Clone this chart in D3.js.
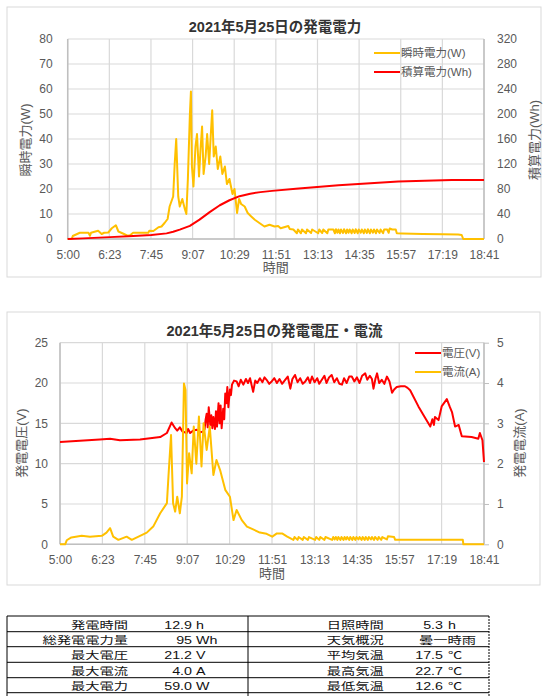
<!DOCTYPE html>
<html>
<head>
<meta charset="utf-8">
<script src="https://cdn.jsdelivr.net/npm/d3@7"></script>
<style>
  body { margin: 0; background: #fff; }
  text { font-family: "Liberation Sans", "Noto Sans CJK JP", sans-serif; }
</style>
</head>
<body>
<div id="chart"></div>
<script>
// 時刻ラベル (x軸)
var timeLabels = ['5:00', '6:23', '7:45', '9:07', '10:29', '11:51', '13:13', '14:35', '15:57', '17:19', '18:41'];

// 瞬時電力 (W)
var powerW = [
  ['5:00', 0], ['5:08', 0], ['5:10', 1.2], ['5:24', 2.5], ['5:41', 2.5], ['5:44', 1.3], ['5:46', 2.5],
  ['6:00', 3.3], ['6:07', 2.0], ['6:12', 2.5], ['6:20', 2.6], ['6:27', 4.3], ['6:35', 5.5], ['6:40', 3.0],
  ['6:50', 2.1], ['6:58', 1.3], ['7:03', 1.5], ['7:09', 2.5], ['7:39', 2.5], ['7:41', 3.3], ['7:49', 3.2],
  ['7:59', 4.7], ['8:05', 5.0], ['8:11', 6.4], ['8:17', 8], ['8:21', 13], ['8:28', 17], ['8:31', 30],
  ['8:34', 40], ['8:38', 17], ['8:41', 13], ['8:46', 16], ['8:51', 12], ['8:54', 10], ['8:57', 24],
  ['9:01', 50], ['9:03', 59], ['9:05', 29], ['9:08', 21], ['9:12', 37], ['9:15', 42], ['9:19', 25],
  ['9:22', 36], ['9:25', 45], ['9:28', 26], ['9:32', 33], ['9:35', 42], ['9:39', 30], ['9:42', 41],
  ['9:45', 51.5], ['9:48', 33], ['9:52', 37], ['9:56', 28], ['10:01', 33], ['10:05', 26], ['10:10', 29],
  ['10:14', 22], ['10:19', 24], ['10:25', 18], ['10:29', 20], ['10:34', 10.4], ['10:38', 16], ['10:42', 14],
  ['10:49', 13], ['10:55', 10.4], ['11:02', 9], ['11:09', 7.7], ['11:18', 6.4], ['11:28', 5], ['11:38', 5.7],
  ['11:48', 5], ['11:55', 5.2], ['12:00', 4.3], ['12:15', 5.2], ['12:18', 4], ['12:25', 3.8], ['12:32', 2.3],
  ['12:34', 3.8], ['12:40', 2.3], ['12:42', 3.8], ['12:50', 2.3], ['12:52', 3.8], ['13:00', 2.4], ['13:02', 3.8],
  ['13:14', 2.3], ['13:16', 3.8], ['13:22', 2.4], ['13:24', 3.8], ['13:32', 2.3], ['13:34', 3.8], ['13:44', 3.8],
  ['13:47', 2.3], ['13:49', 3.9], ['13:52', 2.5], ['13:54', 3.8], ['13:57', 2.3], ['13:59', 3.8], ['14:03', 2.4],
  ['14:05', 3.9], ['14:09', 2.3], ['14:11', 3.8], ['14:14', 2.5], ['14:16', 3.8], ['14:20', 2.3], ['14:22', 3.8],
  ['14:26', 2.4], ['14:28', 3.9], ['14:32', 2.3], ['14:34', 3.8], ['14:38', 2.5], ['14:40', 3.8], ['14:44', 2.3],
  ['14:46', 3.8], ['14:50', 2.4], ['14:52', 3.9], ['14:56', 2.3], ['14:58', 3.8], ['15:02', 2.5], ['15:04', 3.8],
  ['15:08', 2.3], ['15:10', 3.8], ['15:15', 2.4], ['15:17', 3.8], ['15:22', 2.3], ['15:24', 3.8], ['15:30', 3.8],
  ['15:33', 2.5], ['15:35', 4.2], ['15:40', 3.8], ['15:47', 3.8], ['15:49', 2.3], ['16:00', 2.2], ['16:40', 2.0],
  ['17:20', 1.9], ['17:50', 1.8], ['17:57', 1.6], ['18:00', 0], ['18:41', 0]
];

// 積算電力 (Wh)
var energyWh = [
  ['5:00', 0], ['5:30', 1], ['6:23', 3], ['7:00', 4.5], ['7:45', 6.5], ['8:15', 9], ['8:28', 11.5],
  ['8:41', 15], ['9:01', 21], ['9:20', 31], ['9:40', 43], ['10:00', 54], ['10:19', 62], ['10:39', 68.5],
  ['11:00', 72.5], ['11:20', 75], ['11:43', 77], ['12:30', 80.5], ['13:54', 86], ['15:52', 92],
  ['17:37', 94.4], ['18:41', 94.6]
];

// 電圧 (V)
var voltageV = [
  ['5:00', 12.7], ['6:17', 13.0], ['6:37', 13.1], ['6:56', 12.9], ['7:35', 13.0], ['8:14', 13.3], ['8:27', 13.8],
  ['8:36', 15.1], ['8:43', 14.4], ['8:47', 14.1], ['8:52', 14.5], ['8:57', 14.0], ['9:05', 13.8], ['9:08', 14.3],
  ['9:12', 13.8], ['9:18', 14.1], ['9:25', 14.2], ['9:32', 13.9], ['9:38', 14.0], ['9:40', 14.3], ['9:42', 15.5],
  ['9:44', 16.2], ['9:46', 14.5], ['9:48', 17.0], ['9:51', 14.8], ['9:53', 16.0], ['9:55', 14.4], ['9:57', 15.8],
  ['10:00', 14.3], ['10:02', 16.5], ['10:04', 14.6], ['10:07', 17.5], ['10:09', 15.0], ['10:11', 17.2], ['10:13', 14.4],
  ['10:16', 16.8], ['10:18', 15.5], ['10:20', 18.7], ['10:22', 17.5], ['10:24', 19.5], ['10:26', 17.0], ['10:29', 19.2],
  ['10:31', 18.5], ['10:33', 19.8], ['10:37', 20.3], ['10:42', 20.2], ['10:46', 19.6], ['10:50', 20.4], ['10:55', 19.8],
  ['11:00', 20.5], ['11:04', 20.0], ['11:08', 20.6], ['11:14', 18.9], ['11:18', 20.3], ['11:22', 20.0], ['11:27', 20.6],
  ['11:32', 20.1], ['11:36', 20.7], ['11:40', 20.4], ['11:45', 19.9], ['11:50', 20.2], ['11:55', 20.6], ['12:00', 20.0],
  ['12:05', 20.5], ['12:10', 19.9], ['12:16', 20.4], ['12:21', 20.8], ['12:26', 19.3], ['12:30', 20.5], ['12:35', 21.0],
  ['12:40', 20.1], ['12:45', 20.6], ['12:50', 19.9], ['12:55', 20.2], ['13:00', 20.7], ['13:04', 20.0], ['13:08', 20.8],
  ['13:13', 20.1], ['13:18', 20.6], ['13:22', 19.9], ['13:27', 20.4], ['13:32', 20.9], ['13:36', 20.0], ['13:41', 20.7],
  ['13:46', 21.0], ['13:51', 20.1], ['13:56', 20.6], ['14:01', 19.9], ['14:06', 19.8], ['14:10', 20.6], ['14:15', 20.0],
  ['14:20', 20.8], ['14:25', 20.8], ['14:30', 20.2], ['14:35', 20.7], ['14:40', 20.0], ['14:45', 20.9], ['14:51', 21.2],
  ['14:55', 20.4], ['15:00', 20.9], ['15:04', 20.5], ['15:07', 19.3], ['15:11', 20.6], ['15:14', 21.2], ['15:18', 20.0],
  ['15:23', 20.4], ['15:28', 19.9], ['15:33', 20.8], ['15:38', 20.2], ['15:43', 18.8], ['15:47', 19.2], ['15:52', 19.5],
  ['16:00', 19.6], ['16:08', 19.6], ['16:13', 19.4], ['16:18', 19.1], ['16:34', 17.1], ['16:44', 16.0], ['16:57', 14.6],
  ['17:01', 15.5], ['17:04', 14.8], ['17:06', 15.8], ['17:13', 15.4], ['17:19', 17.1], ['17:29', 18.0], ['17:35', 17.0],
  ['17:39', 16.4], ['17:45', 14.6], ['17:52', 14.8], ['17:58', 13.4], ['18:17', 13.3], ['18:30', 13.1], ['18:33', 13.8],
  ['18:38', 12.9], ['18:41', 10.2]
];

// 電流 (A)
var currentA = [
  ['5:00', 0], ['5:10', 0], ['5:13', 0.1], ['5:22', 0.17], ['5:42', 0.21], ['5:58', 0.19], ['6:21', 0.21],
  ['6:30', 0.29], ['6:37', 0.4], ['6:43', 0.19], ['6:53', 0.11], ['7:09', 0.19], ['7:19', 0.11], ['7:35', 0.21],
  ['7:48', 0.29], ['8:01', 0.45], ['8:14', 0.77], ['8:27', 1.02], ['8:30', 1.68], ['8:35', 2.71], ['8:39', 1.02],
  ['8:43', 0.81], ['8:47', 1.18], ['8:52', 0.77], ['8:56', 1.18], ['9:00', 3.99], ['9:03', 3.83], ['9:06', 1.51],
  ['9:10', 2.26], ['9:15', 1.76], ['9:19', 2.92], ['9:24', 2.0], ['9:29', 3.17], ['9:34', 1.93], ['9:38', 3.0],
  ['9:44', 2.34], ['9:50', 2.92], ['9:57', 1.72], ['10:03', 2.09], ['10:10', 1.84], ['10:20', 1.35], ['10:29', 1.18],
  ['10:36', 0.6], ['10:42', 0.85], ['10:52', 0.6], ['11:02', 0.44], ['11:14', 0.37], ['11:27', 0.29], ['11:40', 0.26],
  ['11:51', 0.19], ['12:00', 0.27], ['12:10', 0.27], ['12:20', 0.19], ['12:32', 0.11], ['12:34', 0.18], ['12:40', 0.11],
  ['12:42', 0.18], ['12:50', 0.11], ['12:52', 0.18], ['13:00', 0.11], ['13:02', 0.18], ['13:14', 0.11], ['13:16', 0.18],
  ['13:22', 0.11], ['13:24', 0.18], ['13:32', 0.11], ['13:34', 0.18], ['13:47', 0.11], ['13:49', 0.18], ['13:52', 0.12],
  ['13:54', 0.18], ['13:57', 0.11], ['13:59', 0.18], ['14:03', 0.11], ['14:05', 0.18], ['14:09', 0.11], ['14:11', 0.18],
  ['14:14', 0.12], ['14:16', 0.18], ['14:20', 0.11], ['14:22', 0.18], ['14:26', 0.11], ['14:28', 0.18], ['14:32', 0.11],
  ['14:34', 0.18], ['14:38', 0.12], ['14:40', 0.18], ['14:44', 0.11], ['14:46', 0.18], ['14:50', 0.11], ['14:52', 0.18],
  ['14:56', 0.11], ['14:58', 0.18], ['15:02', 0.12], ['15:04', 0.18], ['15:08', 0.11], ['15:10', 0.18], ['15:15', 0.11],
  ['15:17', 0.18], ['15:22', 0.11], ['15:24', 0.18], ['15:33', 0.12], ['15:35', 0.2], ['15:47', 0.18], ['15:49', 0.11],
  ['18:00', 0.11], ['18:01', 0], ['18:41', 0]
];

// 集計表
var summaryLeft = [
  ['発電時間', '12.9', 'h'], ['総発電電力量', '95', 'Wh'], ['最大電圧', '21.2', 'V'],
  ['最大電流', '4.0', 'A'], ['最大電力', '59.0', 'W']
];
var summaryRight = [
  ['日照時間', '5.3', 'h'], ['天気概況', '曇一時雨', ''], ['平均気温', '17.5', '℃'],
  ['最高気温', '22.7', '℃'], ['最低気温', '12.6', '℃']
];

var W = 544, H = 696;
var gray = '#595959', gridColor = '#d9d9d9', axisColor = '#bfbfbf';
var yellow = '#ffc000', red = '#ff0000';

function toMin(s) {
  var p = s.split(':');
  return +p[0] * 60 + +p[1];
}

var svg = d3.select('#chart').append('svg')
  .attr('width', W)
  .attr('height', H);

function drawChart(o) {
  var g = svg.append('g');

  g.append('rect')
    .attr('x', o.box[0]).attr('y', o.box[1])
    .attr('width', o.box[2]).attr('height', o.box[3])
    .attr('fill', '#fff').attr('stroke', gridColor);

  var x = d3.scaleLinear().domain([toMin('5:00'), toMin('18:41')]).range([o.left, o.right]);
  var xt = d3.scalePoint().domain(timeLabels).range([o.left, o.right]);
  var yL = d3.scaleLinear().domain([0, d3.max(o.leftTicks)]).range([o.bottom, o.top]);
  var yR = d3.scaleLinear().domain([0, d3.max(o.rightTicks)]).range([o.bottom, o.top]);

  // grid
  g.append('g').selectAll('line').data(o.leftTicks).enter().append('line')
    .attr('x1', o.left).attr('x2', o.right)
    .attr('y1', function(d) { return yL(d); }).attr('y2', function(d) { return yL(d); })
    .attr('stroke', gridColor).attr('stroke-width', 1.2);
  g.append('g').selectAll('line').data(timeLabels).enter().append('line')
    .attr('x1', function(d) { return xt(d); }).attr('x2', function(d) { return xt(d); })
    .attr('y1', o.top).attr('y2', o.bottom)
    .attr('stroke', gridColor).attr('stroke-width', 1.2);

  // axis lines
  g.append('line').attr('x1', o.left).attr('x2', o.left).attr('y1', o.top).attr('y2', o.bottom)
    .attr('stroke', axisColor).attr('stroke-width', 1.5);
  g.append('line').attr('x1', o.right).attr('x2', o.right).attr('y1', o.top).attr('y2', o.bottom)
    .attr('stroke', axisColor).attr('stroke-width', 1.5);
  g.append('line').attr('x1', o.left).attr('x2', o.right).attr('y1', o.bottom).attr('y2', o.bottom)
    .attr('stroke', axisColor).attr('stroke-width', 1.5);

  // left axis
  var ax = g.append('g').attr('transform', 'translate(' + o.left + ',0)')
    .call(d3.axisLeft(yL).tickValues(o.leftTicks).tickFormat(d3.format('d')).tickSize(0).tickPadding(o.leftPad));
  ax.select('.domain').remove();
  ax.selectAll('text').attr('fill', gray).style('font-size', '12px')
    .style('font-family', '"Liberation Sans", "Noto Sans CJK JP", sans-serif');

  // right axis
  var axR = g.append('g').attr('transform', 'translate(' + o.right + ',0)')
    .call(d3.axisRight(yR).tickValues(o.rightTicks).tickFormat(d3.format('d'))
      .tickSize(o.rightTickSize).tickPadding(13 - o.rightTickSize));
  axR.select('.domain').remove();
  axR.selectAll('line').attr('stroke', axisColor);
  axR.selectAll('text').attr('fill', gray).style('font-size', '12px')
    .style('font-family', '"Liberation Sans", "Noto Sans CJK JP", sans-serif');

  // bottom axis
  var axB = g.append('g').attr('transform', 'translate(0,' + o.bottom + ')')
    .call(d3.axisBottom(xt).tickSize(0).tickPadding(11));
  axB.select('.domain').remove();
  axB.selectAll('text').attr('fill', gray).style('font-size', '12px')
    .style('font-family', '"Liberation Sans", "Noto Sans CJK JP", sans-serif');

  // titles
  g.append('text').attr('x', (o.box[0] * 2 + o.box[2]) / 2 + 1).attr('y', o.titleY)
    .attr('text-anchor', 'middle').attr('fill', '#333')
    .style('font-size', '14.5px').style('font-weight', 'bold').text(o.title);
  g.append('text').attr('x', (o.left + o.right) / 2).attr('y', o.xTitleY)
    .attr('text-anchor', 'middle').attr('fill', gray).style('font-size', '13px').text('時間');
  g.append('text').attr('transform', 'translate(' + o.yTitleL[0] + ',' + o.yTitleL[1] + ') rotate(-90)')
    .attr('text-anchor', 'middle').attr('dy', '0.35em').attr('fill', gray).style('font-size', '13px').text(o.leftTitle);
  g.append('text').attr('transform', 'translate(' + o.yTitleR[0] + ',' + o.yTitleR[1] + ') rotate(-90)')
    .attr('text-anchor', 'middle').attr('dy', '0.35em').attr('fill', gray).style('font-size', '13px').text(o.rightTitle);

  // series
  var plot = g.append('g');
  o.series.forEach(function(s) {
    var y = s.axis === 'left' ? yL : yR;
    var line = d3.line()
      .x(function(d) { return x(toMin(d[0])); })
      .y(function(d) { return y(d[1]); });
    plot.append('path')
      .datum(s.data)
      .attr('d', line)
      .attr('fill', 'none')
      .attr('stroke', s.color)
      .attr('stroke-width', 2)
      .attr('stroke-linejoin', 'round');
  });

  // legend
  var leg = g.append('g');
  o.series.forEach(function(s, i) {
    var ly = o.legend[1] + i * 19;
    leg.append('line').attr('x1', o.legend[0]).attr('x2', o.legend[0] + 26)
      .attr('y1', ly).attr('y2', ly).attr('stroke', s.color).attr('stroke-width', 2);
    leg.append('text').attr('x', o.legend[0] + 27).attr('y', ly).attr('dy', '0.35em')
      .attr('fill', gray).style('font-size', '11.5px').text(s.name);
  });
}

drawChart({
  box: [7, 7, 534, 270],
  left: 67.7, right: 484, top: 39, bottom: 239,
  leftTicks: d3.range(0, 81, 10),
  rightTicks: d3.range(0, 321, 40),
  leftPad: 15, rightTickSize: 0,
  title: '2021年5月25日の発電電力',
  titleY: 32,
  xTitleY: 272,
  leftTitle: '瞬時電力(W)', rightTitle: '積算電力(Wh)',
  yTitleL: [25, 140], yTitleR: [534, 140],
  legend: [374, 53],
  series: [
    { name: '瞬時電力(W)', data: powerW, axis: 'left', color: yellow },
    { name: '積算電力(Wh)', data: energyWh, axis: 'right', color: red }
  ]
});

drawChart({
  box: [7, 312, 533, 273],
  left: 60, right: 484, top: 342.7, bottom: 544.3,
  leftTicks: d3.range(0, 26, 5),
  rightTicks: d3.range(0, 6, 1),
  leftPad: 12, rightTickSize: 5,
  title: '2021年5月25日の発電電圧・電流',
  titleY: 336,
  xTitleY: 578,
  leftTitle: '発電電圧(V)', rightTitle: '発電電流(A)',
  yTitleL: [21, 443], yTitleR: [519, 443],
  legend: [415, 353],
  series: [
    { name: '電圧(V)', data: voltageV, axis: 'left', color: red },
    { name: '電流(A)', data: currentA, axis: 'right', color: yellow }
  ]
});

// 集計表 (文字は横長)
var rowY = [616, 631.7, 646.7, 662.3, 677.7, 692.7];
var tbl = svg.append('g');
rowY.forEach(function(y) {
  tbl.append('line').attr('x1', 7).attr('x2', 489).attr('y1', y).attr('y2', y)
    .attr('stroke', '#000').attr('stroke-width', 1);
});
[7, 248].forEach(function(x) {
  tbl.append('line').attr('x1', x).attr('x2', x).attr('y1', 616).attr('y2', 696)
    .attr('stroke', '#000').attr('stroke-width', 1);
});
tbl.append('line').attr('x1', 489).attr('x2', 489).attr('y1', 616).attr('y2', 696)
  .attr('stroke', '#000').attr('stroke-width', 1).attr('stroke-dasharray', '2,1');

function cell(x, y, anchor, txt) {
  tbl.append('text')
    .attr('transform', 'translate(' + x + ',' + y + ') scale(1.36,1)')
    .attr('text-anchor', anchor)
    .attr('fill', '#111')
    .style('font-size', '10.5px')
    .text(txt);
}

function drawRows(rows, labelX, labelAnchor, numX, unitX) {
  rows.forEach(function(r, i) {
    var by = rowY[i + 1] - 3;
    cell(labelX, by, labelAnchor, r[0]);
    if (r[2]) {
      cell(numX, by, 'end', r[1]);
      cell(unitX, by, 'start', r[2]);
    } else {
      cell(unitX - 29, by, 'start', r[1]);
    }
  });
}
drawRows(summaryLeft, 128, 'end', 192, 196);
drawRows(summaryRight, 326.7, 'start', 443, 448);
</script>
</body>
</html>
